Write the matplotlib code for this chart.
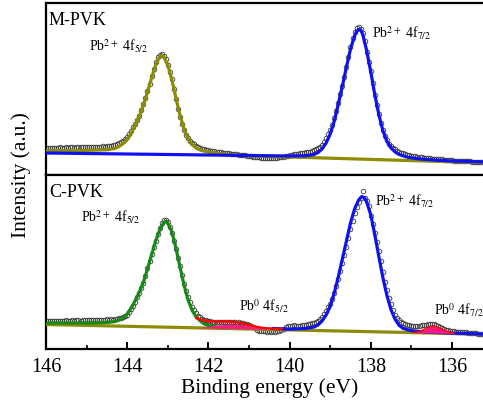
import numpy as np
import matplotlib
matplotlib.use('Agg')
import matplotlib.pyplot as plt

plt.rcParams['font.family'] = ['Liberation Serif', 'DejaVu Serif']
plt.rcParams['mathtext.fontset'] = 'stix'

# Datos experimentales (paso 0.05 eV, desde 146.00 eV hacia abajo)
step = 0.05
m_pvk_datos = [
    27.0, 27.2, 26.8, 27.1, 27.4, 27.0, 27.3, 27.6, 27.2, 27.5, 27.8, 27.4, 27.6, 27.9, 27.5, 27.8, 28.1, 27.7, 27.9, 28.2,
    27.8, 28.0, 28.3, 27.9, 28.2, 28.5, 28.2, 28.4, 28.7, 28.5, 28.8, 29.0, 29.3, 29.8, 30.3, 30.9, 31.6, 32.6, 34.0, 35.8,
    38.2, 41.0, 44.5, 47.7, 51.0, 55.0, 59.5, 65.0, 71.0, 77.5, 84.0, 91.0, 99.0, 106.5, 113.0, 118.0, 120.5, 121.5, 119.5, 116.0,
    110.0, 103.0, 96.0, 86.0, 76.0, 66.0, 58.5, 51.5, 45.0, 40.5, 37.0, 34.3, 32.3, 30.6, 29.0, 28.0, 27.0, 26.3, 25.6, 25.1,
    24.7, 24.4, 24.0, 23.7, 23.4, 23.0, 22.7, 22.5, 22.2, 22.0, 21.8, 21.5, 21.2, 21.0, 20.7, 20.4, 20.2, 20.0, 19.6, 19.3,
    19.0, 18.8, 18.5, 18.2, 18.0, 17.6, 17.3, 17.0, 16.8, 17.0, 16.7, 16.9, 17.2, 16.9, 17.3, 17.6, 17.8, 18.3, 18.8, 19.4,
    19.8, 20.4, 20.9, 21.2, 21.5, 21.8, 22.0, 22.3, 22.6, 23.0, 23.5, 24.0, 24.8, 25.8, 26.8, 28.0, 30.0, 33.0, 37.0, 41.0,
    45.5, 50.5, 57.0, 64.0, 72.5, 81.0, 89.5, 98.5, 108.0, 118.5, 128.5, 137.0, 143.5, 147.5, 148.5, 146.5, 142.0, 134.0, 123.5, 113.0,
    104.0, 92.0, 80.0, 70.0, 61.0, 52.0, 45.0, 39.5, 35.0, 31.5, 29.5, 27.5, 25.8, 24.3, 23.2, 22.3, 21.6, 21.0, 20.4, 19.8,
    19.3, 19.0, 18.6, 18.3, 18.0, 17.7, 17.4, 17.2, 17.0, 16.7, 16.5, 16.3, 16.1, 16.0, 15.8, 15.6, 15.4, 15.3, 15.1, 14.9,
    14.7, 14.5, 14.4, 14.2, 14.1, 14.0, 13.9, 13.8, 13.7, 13.6, 13.5, 13.5, 13.4, 13.3, 13.3, 13.2,
]
c_pvk_datos = [
    27.8, 28.1, 27.7, 28.0, 28.3, 27.9, 28.2, 28.5, 28.0, 28.3, 28.6, 28.2, 28.4, 28.7, 28.3, 28.6, 28.9, 28.5, 28.7, 29.0,
    28.6, 28.8, 29.1, 28.7, 29.0, 29.3, 28.9, 29.2, 29.5, 29.3, 29.6, 29.4, 29.7, 29.5, 29.9, 30.3, 30.8, 31.3, 31.9, 33.0,
    34.5, 37.0, 40.0, 43.5, 47.5, 52.0, 56.5, 61.0, 66.5, 73.5, 81.0, 88.0, 95.0, 102.0, 108.5, 115.0, 121.0, 126.0, 129.0, 129.5,
    127.0, 122.0, 116.0, 108.3, 100.0, 91.5, 83.0, 74.5, 65.0, 58.0, 51.7, 47.0, 42.5, 39.0, 36.0, 33.5, 31.7, 30.5, 29.5, 28.8,
    28.2, 27.7, 27.5, 27.3, 27.2, 27.0, 27.0, 26.9, 27.1, 26.7, 27.0, 27.2, 27.0, 26.8, 26.5, 26.7, 26.3, 25.8, 25.2, 24.7,
    24.2, 23.5, 22.5, 21.0, 19.5, 18.5, 18.0, 17.6, 17.8, 17.4, 17.7, 17.5, 17.8, 17.4, 17.9, 18.3, 19.2, 20.5, 22.0, 23.0,
    23.4, 23.2, 23.6, 23.4, 23.3, 23.5, 23.8, 24.0, 24.3, 24.6, 25.0, 25.6, 26.3, 27.2, 28.4, 30.0, 32.0, 34.8, 38.0, 41.7,
    45.5, 50.5, 56.0, 63.0, 70.0, 78.0, 86.0, 94.5, 102.5, 111.0, 120.0, 128.5, 136.0, 142.0, 147.0, 151.0, 158.0, 151.0, 148.3, 143.0,
    133.0, 125.0, 116.0, 107.0, 98.0, 88.0, 77.0, 66.7, 59.0, 51.5, 45.0, 39.0, 34.5, 31.5, 29.0, 27.5, 26.2, 25.3, 24.5, 23.8,
    23.3, 23.0, 23.1, 23.0, 23.3, 23.6, 24.0, 24.5, 24.9, 25.2, 25.3, 25.0, 24.2, 23.0, 21.7, 20.6, 19.8, 19.2, 18.7, 18.3,
    18.0, 17.7, 17.5, 17.3, 17.1, 17.0, 16.9, 16.7, 16.5, 16.2, 16.0, 15.8, 15.6, 15.4, 15.1, 15.0,
]

# Curvas de ajuste M-PVK
m_olivo_e = [146.0, 145.0, 144.5, 144.3, 144.2, 144.1, 144.0, 143.9, 143.8, 143.7, 143.6, 143.5, 143.4, 143.3, 143.2,
             143.15, 143.1, 143.0, 142.9, 142.8, 142.7, 142.6, 142.5, 142.4, 142.3, 142.2, 142.0, 141.8, 141.5, 141.0,
             140.0, 139.0, 138.0, 137.0, 136.0, 135.0]
m_olivo_i = [24.3, 24.6, 25.2, 26.5, 28.5, 31.5, 35.5, 42.0, 50.0, 59.0, 70.0, 83.0, 97.0, 110.0, 118.5,
             119.5, 118.5, 110.0, 95.0, 77.0, 60.0, 46.0, 36.5, 30.5, 27.0, 25.0, 23.0, 21.8, 20.5, 19.0,
             18.0, 16.8, 15.6, 14.4, 13.3, 12.3]
m_azul_e = [146.0, 144.0, 142.0, 141.0, 140.0, 139.6, 139.4, 139.3, 139.2, 139.1, 139.0, 138.9, 138.8, 138.7, 138.6,
            138.5, 138.4, 138.35, 138.3, 138.25, 138.2, 138.1, 138.0, 137.9, 137.8, 137.7, 137.6, 137.5, 137.4, 137.3,
            137.1, 136.8, 136.4, 136.0, 135.0]
m_azul_i = [22.0, 21.0, 20.0, 19.5, 19.0, 19.3, 20.5, 22.5, 26.0, 32.0, 41.0, 54.0, 71.0, 89.0, 108.0,
            126.0, 139.0, 143.5, 145.5, 145.0, 141.0, 124.0, 103.0, 80.0, 60.0, 44.0, 33.5, 27.0, 23.0, 20.5,
            17.8, 16.0, 14.8, 14.0, 12.8]

# Curvas de ajuste C-PVK
c_fondo_e = [146.0, 135.0]
c_fondo_i = [24.5, 14.6]
c_verde_e = [146.0, 145.0, 144.5, 144.3, 144.2, 144.1, 144.0, 143.9, 143.8, 143.7, 143.6, 143.5, 143.4, 143.3, 143.2,
             143.1, 143.05, 143.0, 142.9, 142.8, 142.7, 142.6, 142.5, 142.4, 142.3, 142.2, 142.1, 142.0, 141.8, 141.6]
c_verde_i = [26.0, 26.0, 26.5, 27.5, 29.0, 31.5, 35.0, 41.0, 48.5, 57.0, 67.0, 80.0, 94.0, 108.0, 119.0,
             126.5, 127.5, 126.0, 117.0, 101.0, 82.0, 64.0, 49.0, 38.5, 32.0, 28.0, 25.0, 23.5, 22.0, 21.2]
c_azul_e = [140.4, 140.0, 139.6, 139.4, 139.3, 139.2, 139.1, 139.0, 138.9, 138.8, 138.7, 138.6, 138.5, 138.4,
            138.3, 138.22, 138.15, 138.1, 138.0, 137.9, 137.8, 137.7, 137.6, 137.5, 137.4, 137.3, 137.2, 137.0, 136.7,
            136.3, 136.0, 135.5, 135.0]
c_azul_i = [20.5, 19.8, 20.5, 22.0, 24.0, 28.0, 34.0, 43.0, 56.0, 72.0, 90.0, 108.0, 126.0, 140.0,
            149.0, 152.5, 151.0, 147.0, 134.0, 114.0, 92.0, 71.0, 53.0, 39.0, 29.5, 23.5, 20.5, 18.3, 17.2,
            16.4, 15.9, 15.3, 14.6]
c_rojo_e = [142.3, 142.2, 142.1, 142.0, 141.9, 141.8, 141.7, 141.6, 141.5, 141.4, 141.3, 141.2, 141.1, 141.0, 140.9,
            140.8, 140.7, 140.6, 140.4, 140.2]
c_rojo_i = [31.0, 29.5, 28.5, 28.0, 27.6, 27.4, 27.4, 27.5, 27.5, 27.2, 26.7, 26.0, 25.0, 24.0, 23.0,
            22.0, 21.3, 20.8, 20.3, 20.0]
pb0_52_e = [142.2, 142.0, 141.8, 141.6, 141.47, 141.3, 141.1, 140.9, 140.7, 140.5]
pb0_52_i = [21.4, 22.6, 23.8, 24.6, 24.8, 24.6, 23.8, 22.3, 20.8, 19.7]
pb0_72_e = [136.95, 136.8, 136.7, 136.6, 136.5, 136.45, 136.4, 136.3, 136.2, 136.1, 135.95]
pb0_72_i = [16.6, 17.6, 19.3, 21.5, 22.7, 22.8, 22.5, 21.0, 19.0, 17.4, 16.0]

OLIVO = '#8c8c00'
AZUL = '#1010f0'
VERDE = '#168a16'
ROJO = '#ff0000'
ROSA = '#ff1a80'
lw = 2.3

fig = plt.figure(figsize=(4.83, 4.14), dpi=100)
ax1 = fig.add_axes([46 / 483, 1 - 176 / 414, 446.6 / 483, 172 / 414])
ax2 = fig.add_axes([46 / 483, 1 - 350 / 414, 446.6 / 483, 174 / 414])


def fondo_de(e):
    # linea de fondo recta entre sus dos extremos
    return np.interp(e, c_fondo_e[::-1], c_fondo_i[::-1])


def dibujar_datos(ax, datos):
    e = 146.0 - step * np.arange(len(datos))
    ax.plot(e, datos, 'o', mfc='none', mec='#3a3a3a', ms=3.3, mew=0.6, zorder=2)


# Panel superior: M-PVK
dibujar_datos(ax1, m_pvk_datos)
ax1.plot(m_olivo_e, m_olivo_i, color=OLIVO, lw=lw, zorder=3)
ax1.plot(m_azul_e, m_azul_i, color=AZUL, lw=lw, zorder=4)

# Panel inferior: C-PVK
dibujar_datos(ax2, c_pvk_datos)
ax2.plot(c_fondo_e, c_fondo_i, color=OLIVO, lw=lw, zorder=3)
ax2.plot(c_verde_e, c_verde_i, color=VERDE, lw=lw, zorder=4)
ax2.plot(c_azul_e, c_azul_i, color=AZUL, lw=lw, zorder=4)
ax2.plot(c_rojo_e, c_rojo_i, color=ROJO, lw=1.8, zorder=5)
ax2.fill_between(pb0_52_e, fondo_de(pb0_52_e), pb0_52_i, color=ROSA, lw=0, zorder=6)
ax2.fill_between(pb0_72_e, fondo_de(pb0_72_e), pb0_72_i, color=ROSA, lw=0, zorder=6)
ax2.plot(pb0_72_e, pb0_72_i, color=ROJO, lw=1.0, zorder=6)

for ax in (ax1, ax2):
    ax.set_xlim(146, 135)
    ax.set_yticks([])
    for s in ax.spines.values():
        s.set_linewidth(1.6)

ax1.set_ylim(0, 172)
ax2.set_ylim(0, 174)
ax1.set_xticks([])

ax2.set_xticks([146, 144, 142, 140, 138, 136])
ax2.set_xticks(np.arange(135, 146.5, 1), minor=True)
ax2.tick_params(axis='x', which='major', direction='in', length=5, width=1.4, labelsize=14.5, pad=6)
ax2.tick_params(axis='x', which='minor', direction='in', length=3, width=1.2)
ax2.set_xlabel('Binding energy (eV)', fontsize=15.5, labelpad=1)
fig.text(0.044, 0.577, 'Intensity (a.u.)', rotation=90, fontsize=15.5, ha='center', va='center')

# Etiquetas
ax1.text(145.93, 151, 'M-PVK', fontsize=13, va='baseline')
ax1.text(144.93, 124.3, r'Pb$^{\mathrm{2+}}$ 4f$_{\mathrm{5/2}}$', fontsize=10, va='baseline')
ax1.text(137.98, 137.7, r'Pb$^{\mathrm{2+}}$ 4f$_{\mathrm{7/2}}$', fontsize=10, va='baseline')
ax2.text(145.93, 153.3, 'C-PVK', fontsize=13, va='baseline')
ax2.text(145.14, 127.5, r'Pb$^{\mathrm{2+}}$ 4f$_{\mathrm{5/2}}$', fontsize=10, va='baseline')
ax2.text(137.9, 143.3, r'Pb$^{\mathrm{2+}}$ 4f$_{\mathrm{7/2}}$', fontsize=10, va='baseline')
ax2.text(141.24, 38.3, r'Pb$^{\mathrm{0}}$ 4f$_{\mathrm{5/2}}$', fontsize=10, va='baseline')
ax2.text(136.45, 34.3, r'Pb$^{\mathrm{0}}$ 4f$_{\mathrm{7/2}}$', fontsize=10, va='baseline')

plt.savefig('out.png', dpi=100)
